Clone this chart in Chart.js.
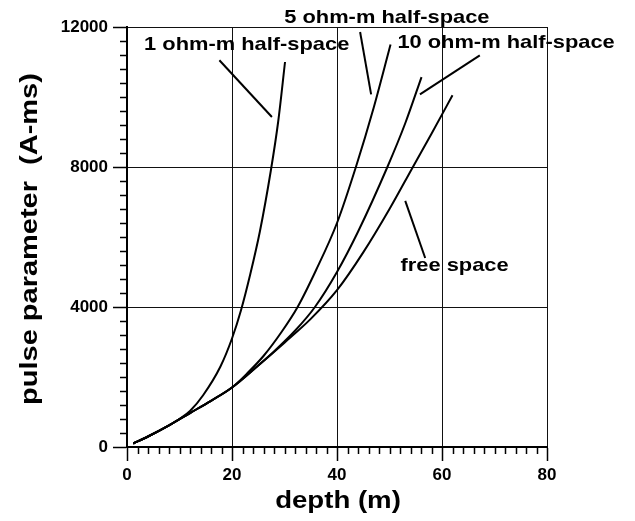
<!DOCTYPE html>
<html>
<head>
<meta charset="utf-8">
<script src="https://cdn.jsdelivr.net/npm/chart.js@4/dist/chart.umd.min.js"></script>
<style>
  html, body { margin: 0; padding: 0; background: #fff; }
  canvas { display: block; }
</style>
</head>
<body>
<canvas id="pulse-chart" width="635" height="521"></canvas>
<script>
const FONT = '"Liberation Sans", Arial, Helvetica, sans-serif';

// depth (m) and pulse parameter (A-ms) for each model
const freeDepth = [1.2, 4, 8, 12, 16, 20, 25, 30, 35, 40, 45, 50, 54.3, 58, 62];
const freePulse = [100, 300, 620, 970, 1320, 1700, 2330, 2980, 3660, 4480, 5560, 6800, 7960, 8950, 10050];

const tenOhmDepth = [1.2, 4, 8, 12, 16, 20, 25, 28, 32, 35.8, 40, 44, 49.6, 53, 56.1];
const tenOhmPulse = [100, 300, 620, 970, 1320, 1700, 2330, 2730, 3320, 4000, 5000, 6150, 8000, 9250, 10570];

const fiveOhmDepth = [1.2, 4, 8, 12, 16, 20, 23, 26, 29.5, 32.5, 36, 40, 43.6, 47, 50.2];
const fiveOhmPulse = [100, 300, 620, 970, 1320, 1700, 2120, 2600, 3300, 4000, 5050, 6400, 8000, 9700, 11500];

const oneOhmDepth = [1.2, 4, 8, 10, 12, 14.5, 17.8, 20, 21.7, 23.5, 25.3, 27.4, 28.8, 30.1];
const oneOhmPulse = [100, 300, 620, 800, 1030, 1480, 2300, 3100, 3900, 4950, 6150, 7900, 9300, 11000];

// curve names and the leader lines pointing from each name to its curve
const curveNames = ['1 ohm-m half-space', '5 ohm-m half-space', '10 ohm-m half-space', 'free space'];
const nameDepth = [22.8, 49.5, 72.2, 62.4];
const namePulse = [11506, 12271, 11563, 5177];
const leaderDepth = [[17.6, 27.6], [44.4, 46.5], [67.2, 55.8], [53.0, 56.8]];
const leaderPulse = [[11049, 9429], [11857, 10077], [11191, 10077], [7030, 5400]];

const depthTicks = [0, 20, 40, 60, 80];
const pulseTicks = [0, 4000, 8000, 12000];

const toPoints = (xs, ys) => xs.map((x, i) => ({ x: x, y: ys[i] }));

const curve = (xs, ys) => ({
  data: toPoints(xs, ys),
  borderColor: '#000',
  borderWidth: 2,
  pointRadius: 0,
  showLine: true,
  cubicInterpolationMode: 'monotone',
});

const leaders = curveNames.map((name, i) => ({
  data: toPoints(leaderDepth[i], leaderPulse[i]),
  borderColor: '#000',
  borderWidth: 2,
  pointRadius: 0,
  showLine: true,
}));

// text widened a little, the way the axis lettering is set
function wideText(ctx, text, x, y, stretch, angle) {
  ctx.save();
  ctx.translate(x, y);
  ctx.rotate(angle || 0);
  ctx.scale(stretch, 1);
  ctx.fillText(text, 0, 0);
  ctx.restore();
}

const decorations = {
  id: 'decorations',
  afterDraw(chart) {
    const { ctx, chartArea, scales } = chart;
    const xs = scales.x;
    const ys = scales.y;

    // minor ticks outside the frame
    ctx.save();
    ctx.strokeStyle = '#000';
    ctx.lineWidth = 1.5;
    ctx.beginPath();
    for (let d = 2; d < 80; d += 2) {
      if (d % 20 === 0) continue;
      const px = Math.round(xs.getPixelForValue(d)) + 0.5;
      ctx.moveTo(px, chartArea.bottom);
      ctx.lineTo(px, chartArea.bottom + 7);
    }
    for (let p = 400; p < 12000; p += 400) {
      if (p % 4000 === 0) continue;
      const py = Math.round(ys.getPixelForValue(p)) + 0.5;
      ctx.moveTo(chartArea.left - 7, py);
      ctx.lineTo(chartArea.left, py);
    }
    ctx.stroke();

    ctx.fillStyle = '#000';
    ctx.textAlign = 'center';
    ctx.textBaseline = 'middle';

    ctx.font = 'bold 19px ' + FONT;
    curveNames.forEach((name, i) => {
      wideText(ctx, name, xs.getPixelForValue(nameDepth[i]), ys.getPixelForValue(namePulse[i]), 1.15);
    });

    ctx.font = 'bold 23px ' + FONT;
    wideText(ctx, 'depth (m)', (chartArea.left + chartArea.right) / 2 + 1, chartArea.bottom + 55, 1.2);
    wideText(ctx, 'pulse parameter  (A-ms)', chartArea.left - 96, (chartArea.top + chartArea.bottom) / 2 + 2, 1.26, -Math.PI / 2);
    ctx.restore();
  },
};

const axisFont = { family: FONT, size: 17, weight: 'bold' };
const plainNumber = (value) => String(value);

new Chart(document.getElementById('pulse-chart').getContext('2d'), {
  type: 'scatter',
  data: {
    datasets: [
      curve(freeDepth, freePulse),
      curve(tenOhmDepth, tenOhmPulse),
      curve(fiveOhmDepth, fiveOhmPulse),
      curve(oneOhmDepth, oneOhmPulse),
      ...leaders,
    ],
  },
  options: {
    responsive: false,
    animation: false,
    devicePixelRatio: 1,
    layout: { padding: { left: 0, top: 27, right: 88, bottom: 0 } },
    plugins: {
      legend: { display: false },
      tooltip: { enabled: false },
    },
    scales: {
      x: {
        type: 'linear',
        min: 0,
        max: 80,
        afterBuildTicks: (scale) => {
          scale.ticks = depthTicks.map((v) => ({ value: v }));
        },
        afterFit: (scale) => {
          scale.height = 74;
        },
        ticks: { color: '#000', font: axisFont, padding: 4, maxRotation: 0, callback: plainNumber },
        grid: { color: '#111', lineWidth: 1, tickLength: 14, tickColor: '#000', tickWidth: 1.5 },
        border: { color: '#000', width: 2 },
      },
      y: {
        type: 'linear',
        min: 0,
        max: 12000,
        afterBuildTicks: (scale) => {
          scale.ticks = pulseTicks.map((v) => ({ value: v }));
        },
        afterFit: (scale) => {
          scale.width = 127;
        },
        ticks: { color: '#000', font: axisFont, padding: 5, callback: plainNumber },
        grid: { color: '#111', lineWidth: 1, tickLength: 14, tickColor: '#000', tickWidth: 1.5 },
        border: { color: '#000', width: 2 },
      },
    },
  },
  plugins: [decorations],
});
</script>
</body>
</html>
